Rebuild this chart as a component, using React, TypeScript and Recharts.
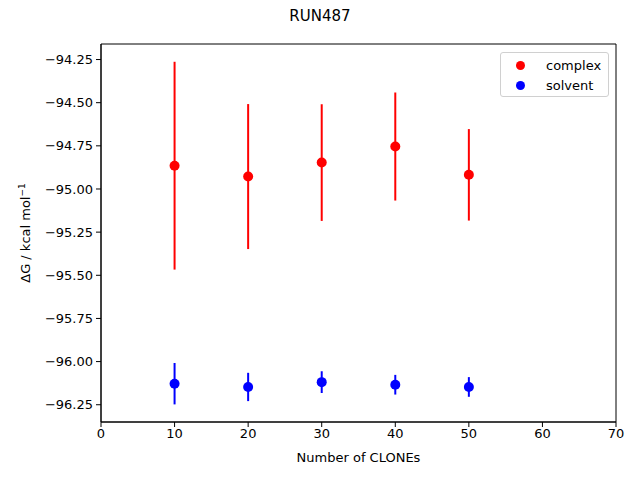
import React from 'react';
import { ScatterChart, Scatter, XAxis, YAxis, ErrorBar, ReferenceArea } from 'recharts';

const clones = [10, 20, 30, 40, 50];
const complexMean = [-94.865, -94.928, -94.847, -94.754, -94.918];
const complexErr = [0.602, 0.42, 0.338, 0.313, 0.265];
const solventMean = [-96.128, -96.147, -96.119, -96.134, -96.147];
const solventErr = [0.12, 0.082, 0.063, 0.057, 0.057];
const xTicks = [0, 10, 20, 30, 40, 50, 60, 70];
const yTicks = [-96.25, -96.0, -95.75, -95.5, -95.25, -95.0, -94.75, -94.5, -94.25];
const seriesNames = ['complex', 'solvent'];
const seriesColors = ['red', 'blue'];

const complexData = clones.map((c, i) => ({ x: c, y: complexMean[i], err: complexErr[i] }));
const solventData = clones.map((c, i) => ({ x: c, y: solventMean[i], err: solventErr[i] }));

const FONT = 'DejaVu Sans, sans-serif';
const fmtY = (v: number) => v.toFixed(2).replace('-', '\u2212');

const LegendBox = () => (
  <div
    style={{
      position: 'absolute',
      left: 500,
      top: 52,
      width: 109,
      height: 45,
      border: '1px solid #d0d0d0',
      borderRadius: 3,
      background: 'rgba(255,255,255,0.8)',
      fontFamily: FONT,
      fontSize: 13,
      boxSizing: 'border-box',
    }}
  >
    {seriesNames.map((t, i) => (
      <div key={i} style={{ position: 'absolute', left: 0, top: 3 + i * 20, height: 18, display: 'flex', alignItems: 'center' }}>
        <span style={{ display: 'inline-block', width: 9, height: 9, borderRadius: 5, background: seriesColors[i], marginLeft: 15 }} />
        <span style={{ marginLeft: 21, color: '#000' }}>{t}</span>
      </div>
    ))}
  </div>
);

export default function App() {
  return (
    <div style={{ position: 'absolute', left: 0, top: 0, width: 640, height: 480, background: '#fff' }}>
      <div style={{ position: 'absolute', left: 0, top: 7, width: 640, textAlign: 'center', fontFamily: FONT, fontSize: 15 }}>RUN487</div>
      <ScatterChart width={640} height={480} margin={{ top: 44, right: 24, bottom: 0, left: 0 }}>
        <XAxis
          type="number"
          dataKey="x"
          domain={[0, 70]}
          ticks={xTicks}
          allowDataOverflow
          height={58}
          tickSize={5}
          tickMargin={2}
          stroke="#000"
          tick={{ fill: '#000', fontSize: 13, fontFamily: FONT }}
          label={{ value: 'Number of CLONEs', position: 'insideBottom', offset: 18, fill: '#000', fontSize: 13, fontFamily: FONT }}
        />
        <YAxis
          type="number"
          dataKey="y"
          domain={[-96.35, -94.16]}
          ticks={yTicks}
          allowDataOverflow
          width={101}
          tickSize={5}
          tickMargin={3}
          stroke="#000"
          tickFormatter={fmtY}
          tick={{ fill: '#000', fontSize: 13, fontFamily: FONT }}
          label={{
            content: () => (
              <text transform="translate(30,233) rotate(-90)" textAnchor="middle" fontFamily={FONT} fontSize={13} fill="#000">
                ΔG / kcal mol
                <tspan dy={-5} fontSize={9}>−1</tspan>
              </text>
            ),
          }}
        />
        <ReferenceArea x1={0} x2={70} y1={-96.35} y2={-94.16} fill="none" stroke="#000" strokeWidth={1} ifOverflow="visible" />
        <Scatter name="complex" data={complexData} fill="red" isAnimationActive={false} shape={(p: any) => <circle cx={p.cx} cy={p.cy} r={5} fill="red" />}>
          <ErrorBar dataKey="err" direction="y" width={0} stroke="red" strokeWidth={2} />
        </Scatter>
        <Scatter name="solvent" data={solventData} fill="blue" isAnimationActive={false} shape={(p: any) => <circle cx={p.cx} cy={p.cy} r={5} fill="blue" />}>
          <ErrorBar dataKey="err" direction="y" width={0} stroke="blue" strokeWidth={2} />
        </Scatter>
      </ScatterChart>
      <LegendBox />
    </div>
  );
}
